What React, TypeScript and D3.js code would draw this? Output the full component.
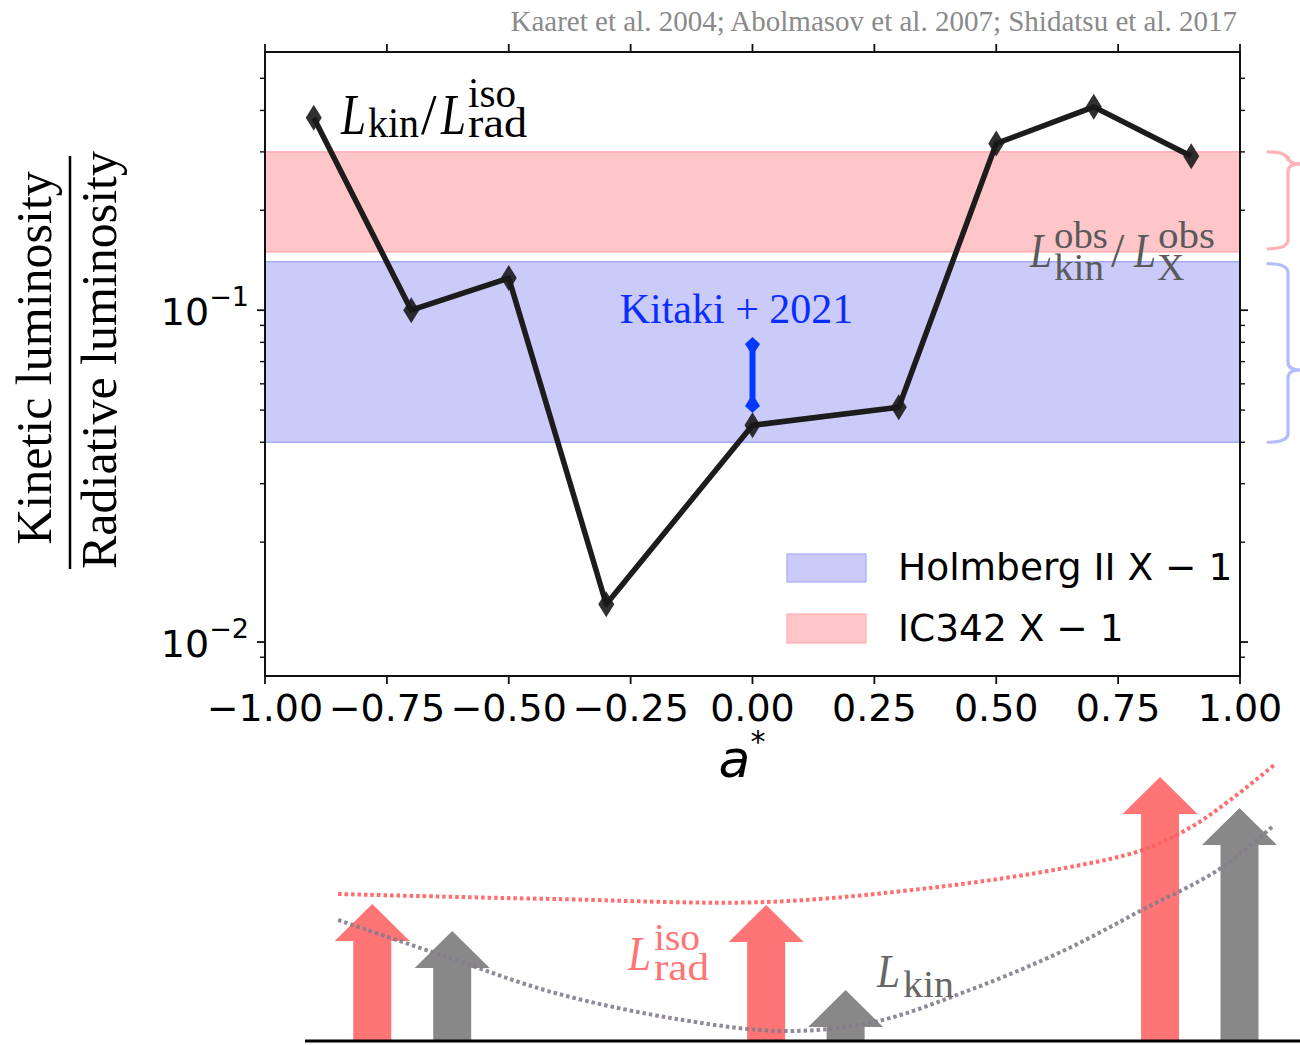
import React from "react";
import * as d3 from "d3";

// Spin parameter and kinetic-to-radiative luminosity ratio of the simulations
const spin = [-0.9, -0.7, -0.5, -0.3, 0, 0.3, 0.5, 0.7, 0.9];
const ratio = [0.38, 0.1, 0.125, 0.013, 0.045, 0.051, 0.318, 0.41, 0.291];

// Observed ranges for the two ULXs
const holmbergBand = [0.04, 0.14];
const ic342Band = [0.15, 0.3];

// Kitaki et al. 2021 estimate at a* = 0
const kitakiSpin = 0;
const kitakiRange = [0.049, 0.083];

const xTicks = [-1, -0.75, -0.5, -0.25, 0, 0.25, 0.5, 0.75, 1];
const xTickLabels = ["−1.00", "−0.75", "−0.50", "−0.25", "0.00", "0.25", "0.50", "0.75", "1.00"];
const yMajorTicks = [0.01, 0.1];
const yMajorExp = ["−2", "−1"];

// Schematic sketch: arrow positions (in a*) and heights (arbitrary units)
const sketchRadPos = [-0.78, 0.028, 0.836];
const sketchRadHeight = [1.37, 1.36, 2.64];
const sketchKinPos = [-0.616, 0.191, 0.999];
const sketchKinHeight = [1.1, 0.51, 2.33];
const sketchRadCurve: [number, number][] = [
  [-0.85, 1.47], [-0.6, 1.44], [-0.405, 1.42], [0.028, 1.39], [0.38, 1.54],
  [0.64, 1.73], [0.8, 1.91], [0.9, 2.14], [0.98, 2.41], [1.07, 2.76],
];
const sketchKinCurve: [number, number][] = [
  [-0.85, 1.21], [-0.627, 0.84], [-0.405, 0.48], [-0.143, 0.21], [0.067, 0.1],
  [0.249, 0.19], [0.446, 0.51], [0.641, 0.91], [0.799, 1.31], [0.955, 1.71], [1.07, 2.16],
];

const W = 1300;
const H = 1045;
const SERIF = "'Liberation Serif', 'Times New Roman', serif";
const SANS = "'DejaVu Sans', sans-serif";

const x = d3.scaleLinear().domain([-1, 1]).range([265, 1240]);
const y = d3.scaleLog().domain([0.0079, 0.6]).range([676, 52]);
const ys = d3.scaleLinear().domain([0, 3]).range([1041, 741]);

const PINK_FILL = "#ffc6c9";
const PINK_EDGE = "#ffabb1";
const BLUE_FILL = "#cbcbfa";
const BLUE_EDGE = "#a8a8f6";

function minorTicks(): number[] {
  const out: number[] = [];
  const [lo, hi] = y.domain();
  for (let e = -3; e <= 0; e++) {
    for (let m = 2; m <= 9; m++) {
      const v = m * Math.pow(10, e);
      if (v > lo * 1.02 && v < hi * 0.98) out.push(v);
    }
  }
  return out;
}

function Arrow({ cx, top, color }: { cx: number; top: number; color: string }) {
  const base = ys(0);
  const head = ys(0) - ys(0.37);
  const hw = 37.5;
  const sw = 19;
  const d = [
    [cx - sw, base], [cx - sw, top + head], [cx - hw, top + head], [cx, top],
    [cx + hw, top + head], [cx + sw, top + head], [cx + sw, base],
  ];
  return <polygon points={d.map((p) => p.join(",")).join(" ")} fill={color} />;
}

function Brace({ x0, top, bottom, tip, color }: { x0: number; top: number; bottom: number; tip: number; color: string }) {
  const s = x0 + 20;
  const t = x0 + 32;
  const d = `M${x0},${top} Q${s},${top} ${s},${top + 9} L${s},${tip - 8} Q${s},${tip} ${t},${tip} ` +
    `M${t},${tip} Q${s},${tip} ${s},${tip + 8} L${s},${bottom - 9} Q${s},${bottom} ${x0},${bottom}`;
  return <path d={d} fill="none" stroke={color} strokeWidth={3.2} strokeLinecap="round" />;
}

// Italic math "L" squeezed to a fixed advance so the sub/superscripts sit clear of it
function MathL({ x: px, y: py, size, width }: { x: number; y: number; size: number; width: number }) {
  return (
    <text x={px} y={py} fontSize={size} fontStyle="italic" textLength={width} lengthAdjust="spacingAndGlyphs">
      L
    </text>
  );
}

export default function App() {
  const [x0, x1] = x.range();
  const yTop = y.range()[1];
  const yBot = y.range()[0];
  const line = d3.line<number>().x((_, i) => x(spin[i])).y((v) => y(v));
  const sketchLine = d3
    .line<[number, number]>()
    .x((d) => x(d[0]))
    .y((d) => ys(d[1]))
    .curve(d3.curveCatmullRom.alpha(0.5));
  const minors = minorTicks();
  const kx = x(kitakiSpin);
  const kTop = y(kitakiRange[1]);
  const kBot = y(kitakiRange[0]);

  return (
    <svg
      width={W}
      height={H}
      viewBox={`0 0 ${W} ${H}`}
      style={{ position: "absolute", left: 0, top: 0, background: "#fff" }}
    >
      <rect width={W} height={H} fill="#fff" />

      {/* citation */}
      <text x={1237} y={31} textAnchor="end" fontFamily={SERIF} fontSize={29} fill="#8a8a8a">
        Kaaret et al. 2004; Abolmasov et al. 2007; Shidatsu et al. 2017
      </text>

      {/* observed bands */}
      <rect x={x0} y={y(ic342Band[1])} width={x1 - x0} height={y(ic342Band[0]) - y(ic342Band[1])}
        fill={PINK_FILL} stroke={PINK_EDGE} strokeWidth={1.5} />
      <rect x={x0} y={y(holmbergBand[1])} width={x1 - x0} height={y(holmbergBand[0]) - y(holmbergBand[1])}
        fill={BLUE_FILL} stroke={BLUE_EDGE} strokeWidth={1.5} />

      {/* simulation curve */}
      <path d={line(ratio) || ""} fill="none" stroke="#1c1c1c" strokeWidth={5.5} strokeLinejoin="round" />
      {ratio.map((v, i) => (
        <path key={i} transform={`translate(${x(spin[i])},${y(v)})`}
          d="M0,-13 L8,0 L0,13 L-8,0 Z" fill="#1a1a1a" opacity={0.9} />
      ))}

      {/* Kitaki + 2021 range */}
      <line x1={kx} x2={kx} y1={kTop + 6} y2={kBot - 6} stroke="#0038ff" strokeWidth={6} />
      <polygon fill="#0038ff"
        points={`${kx},${kTop} ${kx + 7.5},${kTop + 7} ${kx + 3},${kTop + 14} ${kx - 3},${kTop + 14} ${kx - 7.5},${kTop + 7}`} />
      <polygon fill="#0038ff"
        points={`${kx},${kBot} ${kx + 7.5},${kBot - 7} ${kx + 3},${kBot - 14} ${kx - 3},${kBot - 14} ${kx - 7.5},${kBot - 7}`} />
      <text x={kx - 16} y={323} textAnchor="middle" fontFamily={SERIF} fontSize={42} fill="#0a2dff">
        Kitaki + 2021
      </text>

      {/* L_kin / L_rad^iso label */}
      <g fontFamily={SERIF} fill="#000">
        <MathL x={341} y={134} size={56} width={25} />
        <text x={368} y={137} fontSize={42} textLength={51} lengthAdjust="spacingAndGlyphs">kin</text>
        <text x={421} y={134} fontSize={56}>/</text>
        <MathL x={441} y={134} size={56} width={25} />
        <text x={468} y={107} fontSize={42} textLength={48} lengthAdjust="spacingAndGlyphs">iso</text>
        <text x={468} y={137} fontSize={42} textLength={59} lengthAdjust="spacingAndGlyphs">rad</text>
      </g>

      {/* observed ratio label */}
      <g fontFamily={SERIF} fill="#5a5a5a">
        <MathL x={1030} y={267} size={48} width={22} />
        <text x={1054} y={248} fontSize={38} textLength={54} lengthAdjust="spacingAndGlyphs">obs</text>
        <text x={1054} y={280} fontSize={38} textLength={50} lengthAdjust="spacingAndGlyphs">kin</text>
        <text x={1111} y={267} fontSize={48}>/</text>
        <MathL x={1134} y={267} size={48} width={22} />
        <text x={1158} y={248} fontSize={38} textLength={57} lengthAdjust="spacingAndGlyphs">obs</text>
        <text x={1157} y={280} fontSize={38}>X</text>
      </g>

      {/* braces */}
      <Brace x0={1268} top={y(ic342Band[1])} bottom={y(ic342Band[0]) - 3} tip={y(ic342Band[1]) + 12} color="#ffb3b9" />
      <Brace x0={1268} top={y(holmbergBand[1]) + 2} bottom={y(holmbergBand[0])} tip={370} color="#b3bbff" />

      {/* legend */}
      <rect x={787} y={554} width={79} height={28} fill={BLUE_FILL} stroke={BLUE_EDGE} strokeWidth={1.2} />
      <text x={898} y={580} fontFamily={SANS} fontSize={37.5} fill="#000">Holmberg II X − 1</text>
      <rect x={787} y={614} width={79} height={29} fill={PINK_FILL} stroke={PINK_EDGE} strokeWidth={1.2} />
      <text x={898} y={641} fontFamily={SANS} fontSize={37.5} fill="#000">IC342 X − 1</text>

      {/* axes frame and ticks */}
      <rect x={x0} y={yTop} width={x1 - x0} height={yBot - yTop} fill="none" stroke="#111" strokeWidth={2} />
      {xTicks.map((t, i) => (
        <g key={`xt${i}`}>
          <line x1={x(t)} x2={x(t)} y1={yBot} y2={yBot + 8} stroke="#111" strokeWidth={1.8} />
          <line x1={x(t)} x2={x(t)} y1={yTop} y2={yTop - 8} stroke="#111" strokeWidth={1.8} />
          <text x={x(t)} y={721} textAnchor="middle" fontFamily={SANS} fontSize={38} fill="#000">
            {xTickLabels[i]}
          </text>
        </g>
      ))}
      {yMajorTicks.map((t, i) => (
        <g key={`yt${i}`}>
          <line x1={x0} x2={x0 - 8} y1={y(t)} y2={y(t)} stroke="#111" strokeWidth={1.8} />
          <line x1={x1} x2={x1 + 8} y1={y(t)} y2={y(t)} stroke="#111" strokeWidth={1.8} />
          <text x={249} y={y(t) + 15} textAnchor="end" fontFamily={SANS} fontSize={38} fill="#000">
            10<tspan dy={-19} fontSize={27}>{yMajorExp[i]}</tspan>
          </text>
        </g>
      ))}
      {minors.map((t, i) => (
        <g key={`ym${i}`}>
          <line x1={x0} x2={x0 - 5} y1={y(t)} y2={y(t)} stroke="#111" strokeWidth={1.4} />
          <line x1={x1} x2={x1 + 5} y1={y(t)} y2={y(t)} stroke="#111" strokeWidth={1.4} />
        </g>
      ))}

      {/* axis labels */}
      <text x={742} y={777} textAnchor="middle" fontFamily={SANS} fontSize={52} fontStyle="italic" fill="#000">
        a<tspan dy={-25} fontSize={30} fontStyle="normal">*</tspan>
      </text>
      <g fontFamily={SERIF} fontSize={50} fill="#000">
        <text transform="translate(51,358) rotate(-90)" textAnchor="middle">Kinetic luminosity</text>
        <line x1={70} x2={70} y1={156} y2={569} stroke="#000" strokeWidth={2.5} />
        <text transform="translate(116,360) rotate(-90)" textAnchor="middle">Radiative luminosity</text>
      </g>

      {/* schematic sketch */}
      {sketchRadPos.map((p, i) => (
        <Arrow key={`ra${i}`} cx={x(p)} top={ys(sketchRadHeight[i])} color="#ff7474" />
      ))}
      {sketchKinPos.map((p, i) => (
        <Arrow key={`ka${i}`} cx={x(p)} top={ys(sketchKinHeight[i])} color="#888888" />
      ))}
      <path d={sketchLine(sketchRadCurve) || ""} fill="none" stroke="#ff5e5e" strokeWidth={4}
        strokeDasharray="3.5 3" opacity={0.9} />
      <path d={sketchLine(sketchKinCurve) || ""} fill="none" stroke="#857c8c" strokeWidth={4}
        strokeDasharray="3.5 3" opacity={0.9} />
      <line x1={305} x2={W} y1={ys(0)} y2={ys(0)} stroke="#000" strokeWidth={3} />

      <g fontFamily={SERIF} fill="#ff7474">
        <MathL x={628} y={970} size={48} width={23} />
        <text x={654} y={950} fontSize={38} textLength={46} lengthAdjust="spacingAndGlyphs">iso</text>
        <text x={654} y={980} fontSize={38} textLength={55} lengthAdjust="spacingAndGlyphs">rad</text>
      </g>
      <g fontFamily={SERIF} fill="#666">
        <MathL x={877} y={987} size={46} width={23} />
        <text x={903} y={997} fontSize={38} textLength={51} lengthAdjust="spacingAndGlyphs">kin</text>
      </g>
    </svg>
  );
}
